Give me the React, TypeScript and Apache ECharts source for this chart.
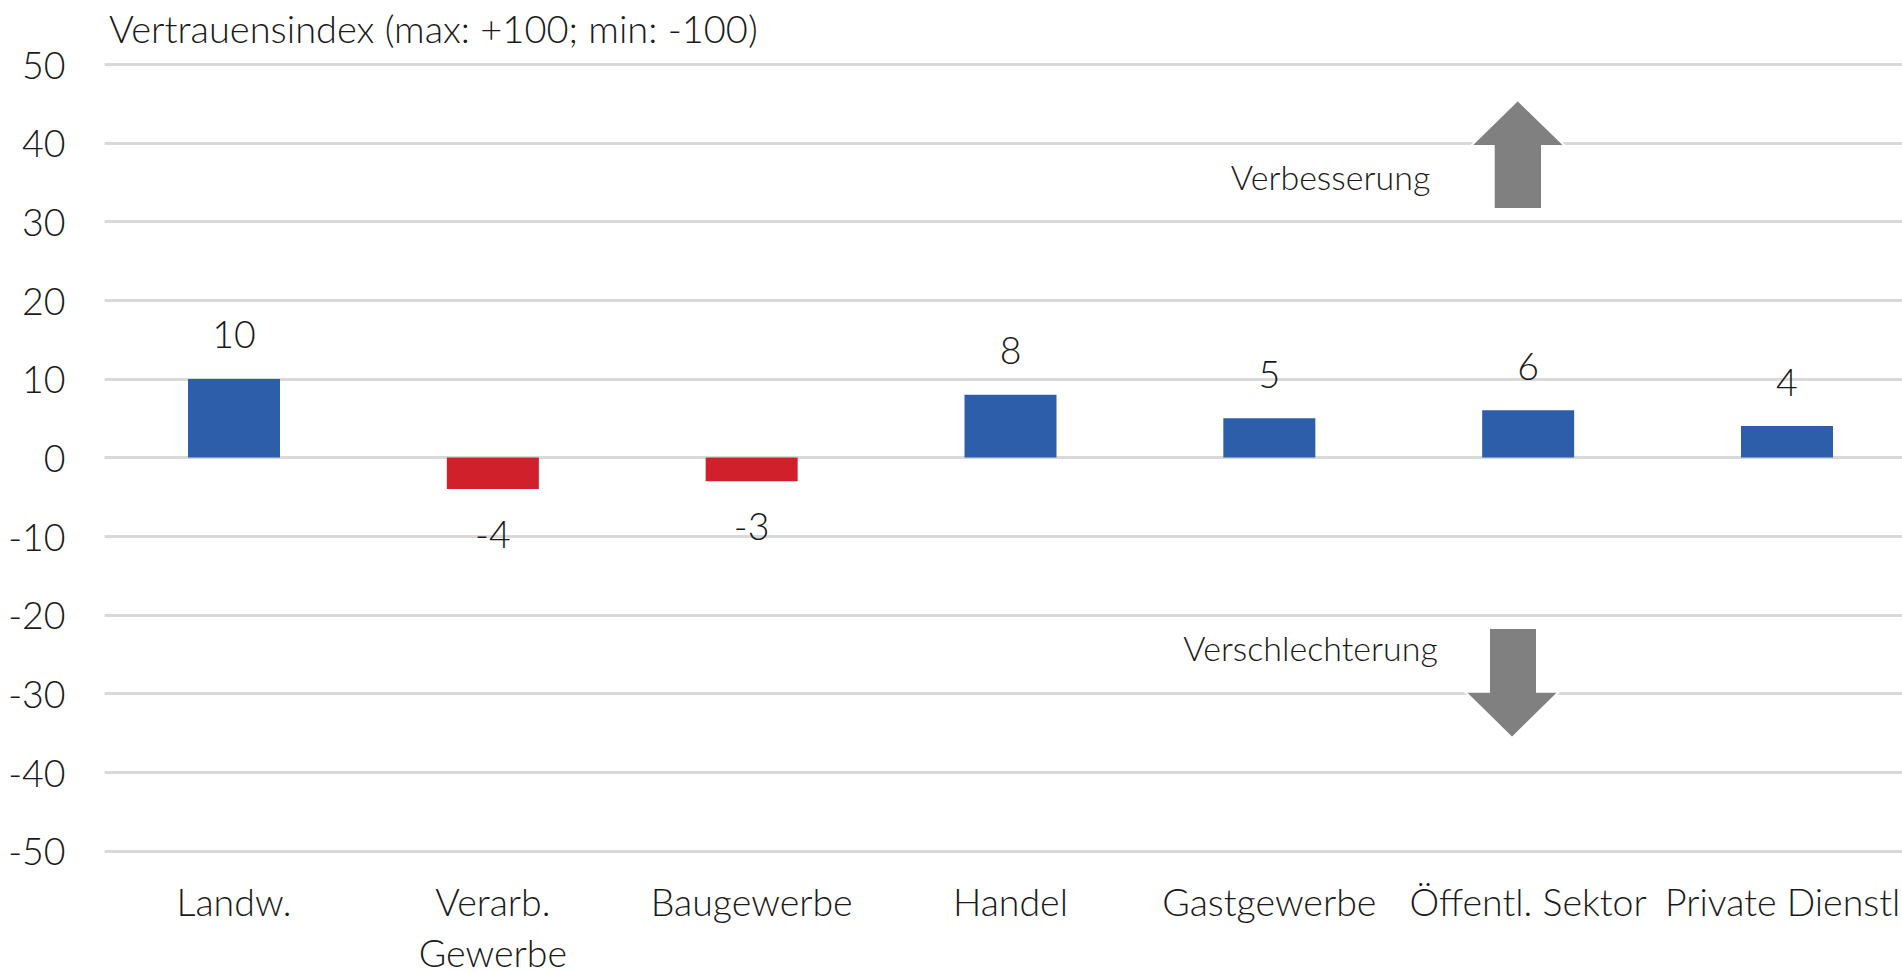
import React, { useEffect, useRef } from "react";
import * as echarts from "echarts";

const categories = ["Landw.", "Verarb.\nGewerbe", "Baugewerbe", "Handel", "Gastgewerbe", "Öffentl. Sektor", "Private Dienstl."];
const values = [10, -4, -3, 8, 5, 6, 4];
const yTicks = { min: -50, max: 50, interval: 10 };
const titleText = "Vertrauensindex (max: +100; min: -100)";
const upText = "Verbesserung";
const downText = "Verschlechterung";

const BLUE = "#2D5EAA";
const RED = "#D0202C";
const FONT = "Lato";
const TXT = "#1a1a1a";
const FS = 37.5;

export default function App() {
  const ref = useRef<HTMLDivElement>(null);
  useEffect(() => {
    document.body.style.margin = "0";
    document.body.style.overflow = "hidden";
    if (!ref.current) return;
    const chart = echarts.init(ref.current, null, { renderer: "svg" });
    const data = values.map((v) => ({
      value: v,
      itemStyle: { color: v >= 0 ? BLUE : RED },
      label: { position: v >= 0 ? "top" : "bottom", distance: v >= 0 ? 26 : 25.5 },
    }));
    chart.setOption({
      animation: false,
      title: {
        text: titleText,
        left: 104,
        top: 4,
        textStyle: { fontFamily: FONT, fontWeight: 300, fontSize: 38, color: TXT },
      },
      grid: {
        left: 104.6,
        top: 64.3,
        width: 1811.8,
        height: 786.5,
        containLabel: false,
        outerBoundsMode: "none",
      },
      xAxis: {
        type: "category",
        data: categories,
        axisLine: { show: false },
        axisTick: { show: false },
        splitLine: { show: false },
        axisLabel: {
          interval: 0,
          margin: 25,
          fontFamily: FONT,
          fontWeight: 300,
          fontSize: FS,
          lineHeight: 51,
          color: TXT,
        },
      },
      yAxis: {
        type: "value",
        min: yTicks.min,
        max: yTicks.max,
        interval: yTicks.interval,
        axisLine: { show: false },
        axisTick: { show: false },
        splitLine: { lineStyle: { color: "#D9D9D9", width: 3 } },
        axisLabel: {
          margin: 39,
          fontFamily: FONT,
          fontWeight: 300,
          fontSize: FS,
          color: TXT,
        },
      },
      series: [
        {
          type: "bar",
          data,
          barWidth: 92,
          label: {
            show: true,
            fontFamily: FONT,
            fontWeight: 300,
            fontSize: FS,
            color: TXT,
          },
        },
      ],
      graphic: [
        {
          type: "polygon",
          z: 100,
          shape: {
            points: [
              [1517.7, 100], [1565, 146], [1542, 146], [1542, 209], [1493.7, 209], [1493.7, 146], [1470.7, 146],
            ],
          },
          style: { fill: "#808080", stroke: "#ffffff", lineWidth: 2 },
        },
        {
          type: "polygon",
          z: 100,
          shape: {
            points: [
              [1489, 628], [1537, 628], [1537, 691.7], [1559, 691.7], [1512, 738], [1465, 691.7], [1489, 691.7],
            ],
          },
          style: { fill: "#808080", stroke: "#ffffff", lineWidth: 2 },
        },
        {
          type: "text",
          z: 100,
          x: 1330.5,
          y: 176,
          style: {
            text: upText,
            fontFamily: FONT,
            fontWeight: 300,
            fontSize: 34,
            fill: TXT,
            align: "center",
            verticalAlign: "middle",
          },
        },
        {
          type: "text",
          z: 100,
          x: 1310.5,
          y: 647,
          style: {
            text: downText,
            fontFamily: FONT,
            fontWeight: 300,
            fontSize: 34,
            fill: TXT,
            align: "center",
            verticalAlign: "middle",
          },
        },
      ],
    });
    return () => chart.dispose();
  }, []);
  return (
    <div style={{ position: "absolute", left: 0, top: 0, width: 1902, height: 972, overflow: "hidden" }}>
      <div ref={ref} style={{ width: 1902, height: 972, background: "#ffffff" }} />
    </div>
  );
}
